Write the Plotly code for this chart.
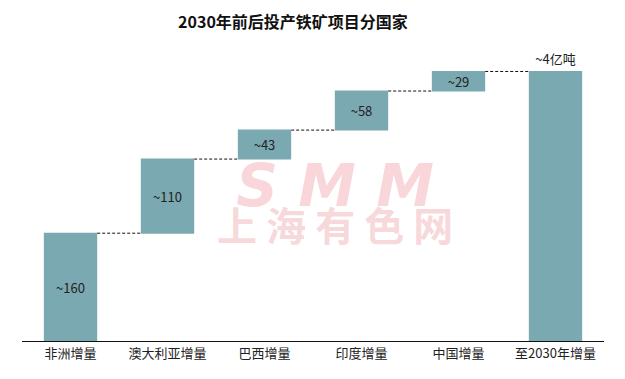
import plotly.graph_objects as go

categories = ["非洲增量", "澳大利亚增量", "巴西增量", "印度增量", "中国增量", "至2030年增量"]
values = [160, 110, 43, 58, 29, 400]
measures = ["relative", "relative", "relative", "relative", "relative", "total"]
labels = ["~160", "~110", "~43", "~58", "~29", "~4亿吨"]
title_text = "2030年前后投产铁矿项目分国家"

BAR = "#7BA9B1"
FONT = "Noto Sans CJK SC"

fig = go.Figure(go.Waterfall(
    x=categories,
    y=values,
    measure=measures,
    text=labels,
    textposition=["inside"] * 5 + ["outside"],
    insidetextanchor="middle",
    constraintext="none",
    textfont=dict(family=FONT, size=13, color="#222"),
    increasing=dict(marker=dict(color=BAR)),
    decreasing=dict(marker=dict(color=BAR)),
    totals=dict(marker=dict(color=BAR)),
    connector=dict(mode="between", line=dict(color="#111", width=1, dash="3px,2px")),
    cliponaxis=False,
))

# watermark (one annotation, two lines)
WM = "rgba(232,120,130,0.3)"
wm_text = ("<span style='font-size:58px;font-family:DejaVu Sans'><b><i>S M M</i></b></span>"
           "<br><span style='font-size:40px'><b>上 海 有 色 网</b></span>")
fig.add_annotation(x=0.538, y=0.49, xref="paper", yref="paper", text=wm_text,
                   showarrow=False, font=dict(family=FONT, size=27, color=WM))

fig.update_layout(
    width=625, height=379,
    margin=dict(l=22, r=21, t=58, b=38),
    paper_bgcolor="white", plot_bgcolor="white",
    showlegend=False,
    waterfallgap=0.45,
    title=dict(text=f"<b>{title_text}</b>", x=293 / 625, xanchor="center", y=1 - 22 / 379, yanchor="middle",
               font=dict(family=FONT, size=16, color="#111")),
    font=dict(family=FONT, color="#222"),
    xaxis=dict(showline=True, linecolor="#111", linewidth=1, ticks="", showgrid=False,
               tickfont=dict(family=FONT, size=13, color="#222")),
    yaxis=dict(range=[0, 420], visible=False, showgrid=False, zeroline=False),
)

fig.write_html("out.html", config={"displayModeBar": False},
               post_script="document.body.style.margin='0';")
